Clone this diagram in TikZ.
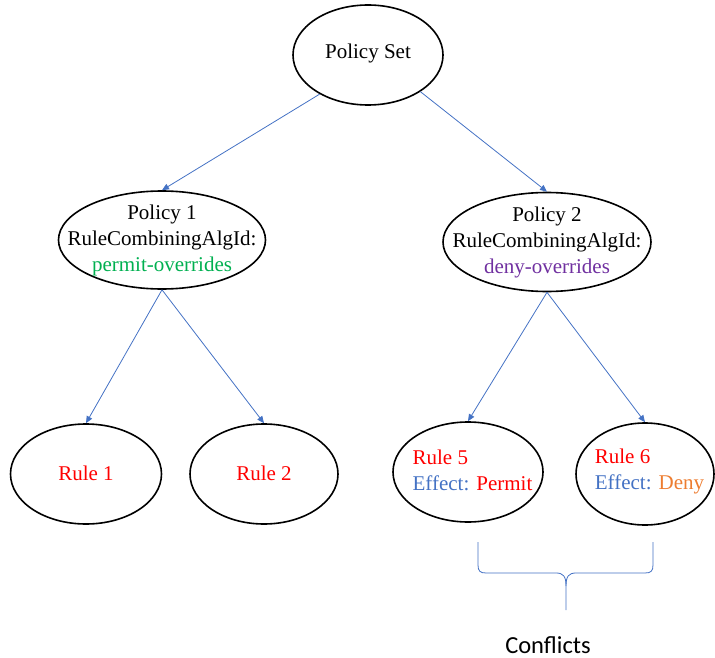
\documentclass[tikz,border=0pt]{standalone}
\usepackage{fontspec}
\setmainfont{Liberation Serif}
\newfontfamily\calib{Carlito}
\usetikzlibrary{arrows.meta,shapes.geometric}
\definecolor{linkblue}{HTML}{4472C4}
\definecolor{rulered}{HTML}{FF0000}
\definecolor{permitgreen}{HTML}{00B050}
\definecolor{denypurple}{HTML}{7030A0}
\definecolor{denyorange}{HTML}{ED7D31}
\begin{document}
\begin{tikzpicture}[x=1pt,y=-1pt,
  oval/.style={ellipse,draw=black,line width=1.6pt,inner sep=0pt},
  txt/.style={inner sep=0pt,font=\fontsize{21}{26}\selectfont},
  link/.style={draw=linkblue,line width=0.8pt,-{Triangle[length=7pt,width=6pt]}}]
\useasboundingbox (0,0) rectangle (715,658);

% ellipses
\node[oval,minimum width=150pt,minimum height=100pt] (ps) at (368,55) {};
\node[oval,minimum width=207pt,minimum height=98pt] (p1) at (162,240) {};
\node[oval,minimum width=208pt,minimum height=99pt] (p2) at (547,242) {};
\node[oval,minimum width=151pt,minimum height=100pt] (r1) at (86,474) {};
\node[oval,minimum width=148pt,minimum height=100pt] (r2) at (264,474) {};
\node[oval,minimum width=150pt,minimum height=100pt] (r5) at (468,472) {};
\node[oval,minimum width=138pt,minimum height=102pt] (r6) at (645,474) {};

% texts
\node[txt] (pst) at (368,53) {Policy Set};
\node[txt,align=center] (p1t) at (162,240) {Policy 1\\RuleCombiningAlgId:\\\textcolor{permitgreen}{permit-overrides}};
\node[txt,align=center] (p2t) at (547,242) {Policy 2\\RuleCombiningAlgId:\\\textcolor{denypurple}{deny-overrides}};
\node[txt,text=rulered] (r1t) at (86,473) {Rule 1};
\node[txt,text=rulered] (r2t) at (264,473) {Rule 2};
\node[txt,align=left] (r5t) at (472.5,470) {\textcolor{rulered}{Rule 5}\\\textcolor{linkblue}{Effect:} \textcolor{rulered}{Permit}};
\node[txt,align=left] (r6t) at (649.5,471) {\textcolor{rulered}{Rule 6}\\\textcolor{linkblue}{Effect:} \textcolor{denyorange}{Deny}};

% connectors
\draw[link] (ps.-141) -- (p1.north);
\draw[link] (ps.-35) -- (p2.north);
\draw[link] (p1.south) -- (r1.north);
\draw[link] (p1.south) -- (r2.north);
\draw[link] (p2.south) -- (r5.north);
\draw[link] (p2.south) -- (r6.north);

% brace over the conflicting rules
\coordinate (bl) at (478,542);
\coordinate (br) at (653,542);
\coordinate (bt) at (566,610);
\draw[linkblue,line width=0.8pt]
  (bl) -- (478,565) .. controls (478,571) and (480,573) .. (486,573)
  -- (556,573) .. controls (563,573) and (566,576) .. (566,586) -- (bt);
\draw[linkblue,line width=0.8pt]
  (br) -- (653,565) .. controls (653,571) and (651,573) .. (645,573)
  -- (576,573) .. controls (569,573) and (566,576) .. (566,586);
\node[inner sep=0pt,font=\calib\fontsize{24.5}{28}\selectfont] (conf) at (548,645) {Conflicts};
\end{tikzpicture}
\end{document}
